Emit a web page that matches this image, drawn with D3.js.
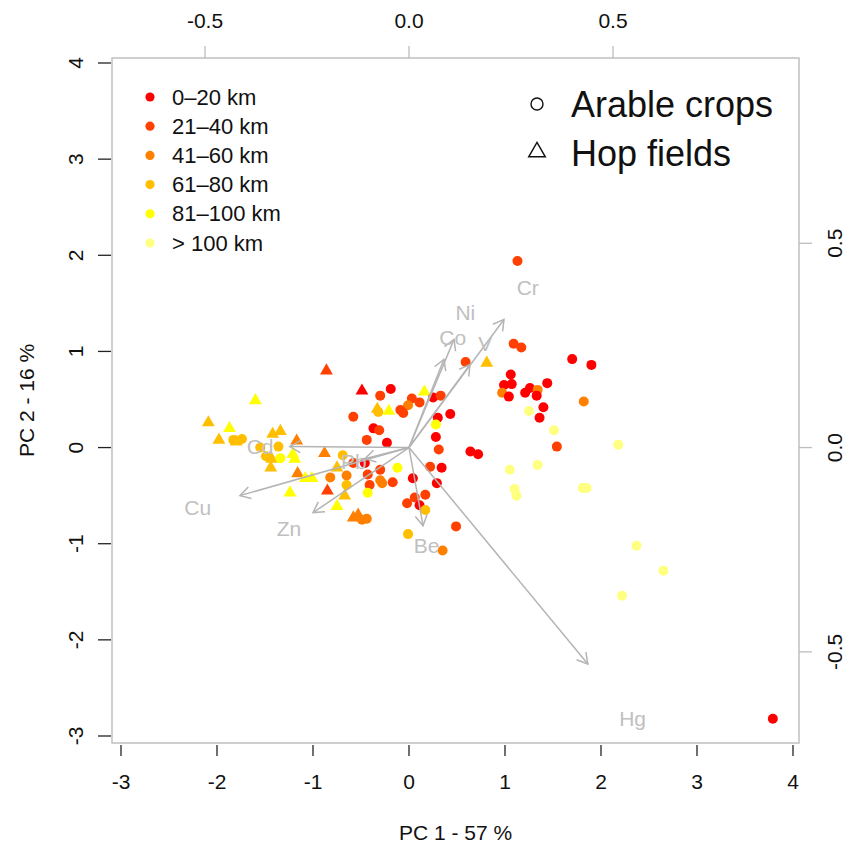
<!DOCTYPE html>
<html>
<head>
<meta charset="utf-8">
<script src="https://cdn.jsdelivr.net/npm/d3@7"></script>
<style>
  html, body { margin: 0; padding: 0; background: #fff; }
  svg { display: block; font-family: "Liberation Sans", Arial, sans-serif; }
</style>
</head>
<body>
<svg id="chart" width="851" height="850"></svg>
<script>
// Site scores on the first two principal components
const pc1 = [1.13,1.09,1.17,1.70,1.90,0.59,0.81,1.06,0.99,1.07,0.97,1.04,1.21,1.26,1.34,1.33,1.44,1.40,1.36,1.82,
  1.25,1.51,1.54,2.18,1.05,1.34,1.10,1.12,1.81,1.85,2.37,2.65,2.22,3.79,0.64,0.72,
  0.16,0.03,0.11,0.25,0.33,-0.01,0.43,0.30,0.28,0.28,0.31,-0.06,-0.09,-0.19,-0.30,-0.49,-0.86,-0.58,-0.37,-0.31,-0.44,-0.23,-0.32,-0.33,-0.21,
  -1.60,-2.09,-1.87,-1.98,-1.83,-1.74,-1.80,-1.42,-1.34,-1.55,-1.49,-1.43,-1.36,-1.21,-1.19,-1.17,-1.44,-1.34,-0.88,-1.16,-1.08,-1.01,-1.24,
  -0.69,-0.75,-0.58,-0.46,-0.82,-0.65,-0.85,-0.67,-0.65,-0.75,-0.58,-0.53,-0.49,-0.44,
  -0.12,-0.30,-0.43,-0.30,-0.28,-0.41,-0.17,-0.43,0.04,0.29,0.22,-0.02,0.06,0.17,0.11,0.17,-0.01,0.35,0.49,0.34];
const pc2 = [1.94,1.08,1.04,0.92,0.86,0.89,0.89,0.76,0.65,0.66,0.57,0.53,0.57,0.62,0.60,0.54,0.67,0.42,0.31,0.48,
  0.38,0.18,0.01,0.03,-0.23,-0.18,-0.43,-0.50,-0.42,-0.42,-1.02,-1.28,-1.54,-2.82,-0.04,-0.07,
  0.59,0.51,0.47,0.52,0.54,0.44,0.35,0.31,0.24,0.11,-0.02,0.36,0.39,0.61,0.54,0.60,0.81,0.32,0.20,0.18,0.08,0.05,0.37,0.41,0.39,
  0.50,0.27,0.21,0.09,0.08,0.09,0.07,0.15,0.18,0.00,-0.09,-0.11,0.01,-0.06,-0.11,0.08,-0.20,-0.11,-0.05,-0.26,-0.31,-0.31,-0.46,
  -0.08,-0.20,-0.16,-0.16,-0.31,-0.29,-0.44,-0.49,-0.39,-0.60,-0.72,-0.69,-0.75,-0.74,
  -0.21,-0.23,-0.28,-0.34,-0.37,-0.39,-0.36,-0.47,-0.32,-0.37,-0.20,-0.58,-0.52,-0.49,-0.60,-0.65,-0.90,-1.07,-0.82,-0.21];
// Distance band index (0 = 0–20 km ... 5 = > 100 km)
const band = [1,1,1,0,0,1,3,0,0,0,2,0,0,0,2,0,0,0,0,2,
  5,5,1,5,5,5,5,5,5,5,5,5,5,0,0,0,
  4,1,1,0,1,2,0,0,4,0,1,1,1,0,1,0,1,1,0,1,1,0,3,3,4,
  4,3,4,3,3,3,3,3,3,3,3,3,3,4,4,2,3,4,2,2,4,4,4,
  3,3,1,0,2,2,1,3,3,4,2,2,2,2,
  4,1,1,2,2,1,1,4,0,0,1,1,1,1,0,3,3,2,1,0];
// Land use: "A" arable crops, "H" hop fields
const use = ["A","A","A","A","A","A","H","A","A","A","A","A","A","A","A","A","A","A","A","A",
  "A","A","A","A","A","A","A","A","A","A","A","A","A","A","A","A",
  "H","A","A","A","A","A","A","A","A","A","A","A","A","A","A","H","H","A","A","A","A","A","A","H","H",
  "H","H","H","H","A","A","H","H","H","A","A","H","A","H","H","H","H","A","H","H","H","H","H",
  "A","H","A","A","A","A","H","H","A","H","H","H","A","A",
  "A","A","A","A","A","A","A","A","A","A","A","A","A","A","A","A","A","A","A","A"];

// Variable loadings
const elements = ["Cr","Ni","Co","V","Cd","Pb","Cu","Zn","Be","Hg"];
const load1 = [0.291,0.138,0.107,0.187,-0.365,-0.135,-0.518,-0.294,0.043,0.548];
const load2 = [0.392,0.331,0.270,0.254,0.003,-0.034,-0.147,-0.199,-0.239,-0.662];

const bandLabels = ["0–20 km","21–40 km","41–60 km","61–80 km","81–100 km","> 100 km"];
const bandColors = ["#ff0000","#ff4000","#ff8000","#ffbf00","#ffff00","#ffff80"];
const useLabels = ["Arable crops","Hop fields"];

const scoreTicks = [-3,-2,-1,0,1,2,3,4];
const loadTicks = [-0.5,0,0.5];

(function () {
  const svg = d3.select("#chart");
  const frame = {left: 112, right: 799, top: 58, bottom: 743};

  // Score scales (equal aspect)
  const x = d3.scaleLinear().domain([-3, 4]).range([121, 793]);
  const y = d3.scaleLinear().domain([-3, 4]).range([736, 63]);
  // Loading scales share the same origin, stretched by a common ratio
  const ratio = 4.25;
  const xl = d3.scaleLinear().domain([-3 / ratio, 4 / ratio]).range([121, 793]);
  const yl = d3.scaleLinear().domain([-3 / ratio, 4 / ratio]).range([736, 63]);

  const tickFont = 21;
  // Plain hyphen for negative numbers
  const fmtInt = d => String(d);
  const fmtDec = d => d.toFixed(1);

  // Plot frame
  svg.append("rect")
    .attr("x", frame.left).attr("y", frame.top)
    .attr("width", frame.right - frame.left).attr("height", frame.bottom - frame.top)
    .attr("fill", "none").attr("stroke", "#c4c4c4").attr("stroke-width", 1.6);

  // Bottom axis (scores)
  const gB = svg.append("g");
  gB.selectAll("line").data(scoreTicks).join("line")
    .attr("x1", d => x(d)).attr("x2", d => x(d))
    .attr("y1", frame.bottom + 2).attr("y2", frame.bottom + 13)
    .attr("stroke", "#222").attr("stroke-width", 1.3);
  gB.selectAll("text").data(scoreTicks).join("text")
    .attr("x", d => x(d)).attr("y", 781)
    .attr("text-anchor", "middle").attr("dominant-baseline", "central")
    .attr("font-size", tickFont).attr("fill", "#111")
    .text(fmtInt);

  // Left axis (scores)
  const gL = svg.append("g");
  gL.selectAll("line").data(scoreTicks).join("line")
    .attr("y1", d => y(d)).attr("y2", d => y(d))
    .attr("x1", frame.left - 14).attr("x2", frame.left - 1)
    .attr("stroke", "#222").attr("stroke-width", 1.3);
  gL.selectAll("text").data(scoreTicks).join("text")
    .attr("transform", d => `translate(75,${y(d)}) rotate(-90)`)
    .attr("text-anchor", "middle").attr("dominant-baseline", "central")
    .attr("font-size", tickFont).attr("fill", "#111")
    .text(fmtInt);

  // Top axis (loadings)
  const gT = svg.append("g");
  gT.selectAll("line").data(loadTicks).join("line")
    .attr("x1", d => xl(d)).attr("x2", d => xl(d))
    .attr("y1", frame.top - 12).attr("y2", frame.top)
    .attr("stroke", "#bdbdbd").attr("stroke-width", 1.3);
  gT.selectAll("text").data(loadTicks).join("text")
    .attr("x", d => xl(d)).attr("y", 20)
    .attr("text-anchor", "middle").attr("dominant-baseline", "central")
    .attr("font-size", tickFont).attr("fill", "#111")
    .text(fmtDec);

  // Right axis (loadings)
  const gR = svg.append("g");
  gR.selectAll("line").data(loadTicks).join("line")
    .attr("y1", d => yl(d)).attr("y2", d => yl(d))
    .attr("x1", frame.right).attr("x2", frame.right + 13)
    .attr("stroke", "#bdbdbd").attr("stroke-width", 1.3);
  gR.selectAll("text").data(loadTicks).join("text")
    .attr("transform", d => `translate(834,${yl(d)}) rotate(-90)`)
    .attr("text-anchor", "middle").attr("dominant-baseline", "central")
    .attr("font-size", tickFont).attr("fill", "#111")
    .text(fmtDec);

  // Axis titles
  svg.append("text")
    .attr("x", (frame.left + frame.right) / 2).attr("y", 832)
    .attr("text-anchor", "middle").attr("dominant-baseline", "central")
    .attr("font-size", 21).attr("fill", "#111")
    .text("PC 1 - 57 %");
  svg.append("text")
    .attr("transform", `translate(26,${(frame.top + frame.bottom) / 2}) rotate(-90)`)
    .attr("text-anchor", "middle").attr("dominant-baseline", "central")
    .attr("font-size", 21).attr("fill", "#111")
    .text("PC 2 - 16 %");

  // Site scores
  const sites = pc1.map((v, i) => ({x: v, y: pc2[i], band: band[i], use: use[i]}));
  const triangle = d3.symbol().type(d3.symbolTriangle).size(72);
  const pts = svg.append("g");
  sites.forEach(d => {
    if (d.use === "H") {
      pts.append("path")
        .attr("d", triangle())
        .attr("transform", `translate(${x(d.x)},${y(d.y) + 1})`)
        .attr("fill", bandColors[d.band]);
    } else {
      pts.append("circle")
        .attr("cx", x(d.x)).attr("cy", y(d.y)).attr("r", 5)
        .attr("fill", bandColors[d.band]);
    }
  });

  // Loading arrows (drawn to 80 % of each loading, label at the loading itself)
  const arrowCol = "#b4b4b4";
  const headLen = 12, headAng = Math.PI / 6;
  const arrows = svg.append("g").attr("stroke", arrowCol).attr("stroke-width", 1.5).attr("fill", "none");
  elements.forEach((el, i) => {
    const x0 = xl(0), y0 = yl(0);
    const x1 = xl(load1[i] * 0.8), y1 = yl(load2[i] * 0.8);
    arrows.append("line").attr("x1", x0).attr("y1", y0).attr("x2", x1).attr("y2", y1);
    const a = Math.atan2(y1 - y0, x1 - x0);
    const p = d3.path();
    p.moveTo(x1 - headLen * Math.cos(a - headAng), y1 - headLen * Math.sin(a - headAng));
    p.lineTo(x1, y1);
    p.lineTo(x1 - headLen * Math.cos(a + headAng), y1 - headLen * Math.sin(a + headAng));
    arrows.append("path").attr("d", p.toString());
  });
  svg.append("g").selectAll("text").data(elements).join("text")
    .attr("x", (d, i) => xl(load1[i])).attr("y", (d, i) => yl(load2[i]))
    .attr("text-anchor", "middle").attr("dominant-baseline", "central")
    .attr("font-size", 21).attr("fill", "#c0c0c0")
    .text(d => d);

  // Distance legend
  const leg = svg.append("g");
  bandLabels.forEach((lab, i) => {
    const yy = 97 + i * 29.2;
    leg.append("circle").attr("cx", 150).attr("cy", yy).attr("r", 4.6).attr("fill", bandColors[i]);
    leg.append("text").attr("x", 172).attr("y", yy)
      .attr("dominant-baseline", "central").attr("font-size", 22).attr("fill", "#111")
      .text(lab);
  });

  // Land-use legend
  const leg2 = svg.append("g");
  leg2.append("circle").attr("cx", 537).attr("cy", 104).attr("r", 6)
    .attr("fill", "none").attr("stroke", "#111").attr("stroke-width", 1.4);
  leg2.append("path").attr("d", d3.symbol().type(d3.symbolTriangle).size(120)())
    .attr("transform", "translate(537,152)")
    .attr("fill", "none").attr("stroke", "#111").attr("stroke-width", 1.4);
  useLabels.forEach((lab, i) => {
    leg2.append("text").attr("x", 571).attr("y", 104 + i * 49)
      .attr("dominant-baseline", "central").attr("font-size", 36).attr("fill", "#111")
      .text(lab);
  });
})();
</script>
</body>
</html>
